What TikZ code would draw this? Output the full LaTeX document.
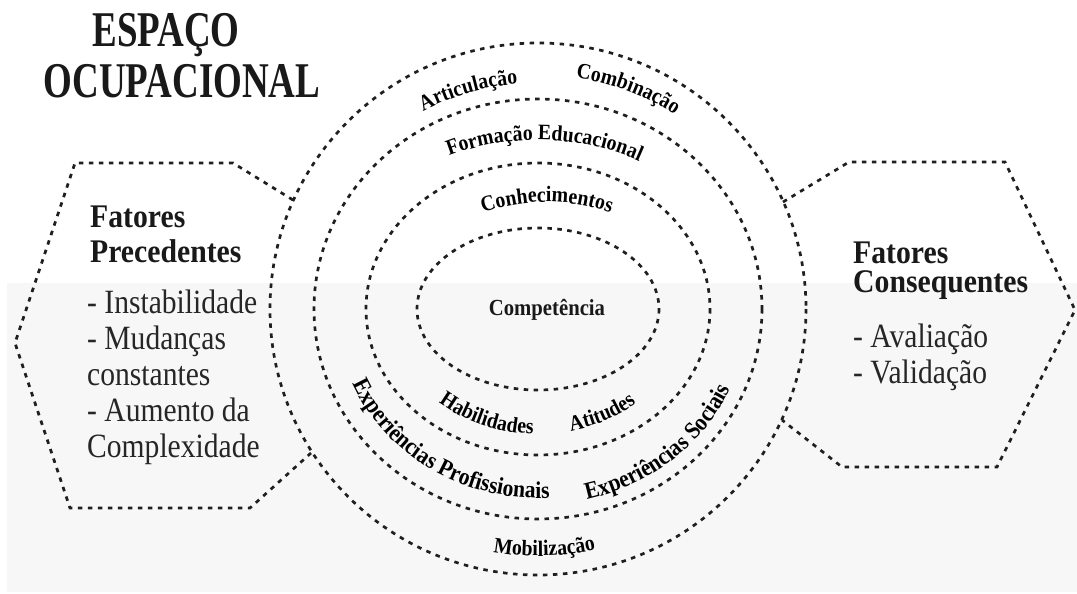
\documentclass[tikz,border=0pt]{standalone}
\usepackage{fontspec}
\setmainfont{Liberation Serif}
\newfontfamily\titlef[FakeStretch=0.74]{Liberation Serif}
\newfontfamily\headf[FakeStretch=0.9]{Liberation Serif}
\newfontfamily\itemf[FakeStretch=0.87]{Liberation Serif}
\newfontfamily\labf[FakeStretch=0.9]{Liberation Serif}
\usetikzlibrary{decorations.text,calc}
\newcommand\lab[1]{\labf\bfseries\fontsize{#1}{#1}\selectfont}
\newcommand\arclab[8][22]{\path[decorate,decoration={text along path,text align=center,text={|\lab{#1}|#8}}] ($(#2,#3)+(#6:#4 and #5)$) arc[start angle=#6,end angle=#7,x radius=#4,y radius=#5];}
\begin{document}
\begin{tikzpicture}[x=1pt,y=-1pt,
  ring/.style={draw=black!88, line width=2.7pt, dash pattern=on 4.5pt off 5.5pt},
  titletext/.style={anchor=base, inner sep=0pt, font=\titlef\bfseries\fontsize{50}{50}\selectfont, text=black!90},
  headtext/.style={anchor=base west, inner sep=0pt, font=\headf\bfseries\fontsize{33}{33}\selectfont, text=black!90},
  itemtext/.style={anchor=base west, inner sep=0pt, font=\itemf\fontsize{34}{34}\selectfont, text=black!85},
  comptext/.style={inner sep=0pt, font=\labf\bfseries\fontsize{23}{23}\selectfont, text=black!90}]
\useasboundingbox (0,0) rectangle (1077,594);
\fill[white] (0,0) rectangle (1077,594);
\fill[black!3] (7,283) rectangle (1077,592);

% title
\node[titletext] (t1) at (166,47) {ESPAÇO};
\node[titletext] (t2) at (182,97) {OCUPACIONAL};

% rings
\coordinate (c) at (538,309);
\draw[ring] (c) ellipse [x radius=268, y radius=266];
\draw[ring] (c) ellipse [x radius=224, y radius=210];
\draw[ring] (c) ellipse [x radius=172, y radius=146];
\draw[ring] (c) ellipse [x radius=121, y radius=81];

% hexagons
\draw[ring] (293,200) -- (233,163) -- (75,163) -- (15,343) -- (70,508) -- (250,508) -- (311,453);
\draw[ring] (783,202) -- (849,162) -- (1005,162) -- (1075,310) -- (997,467) -- (842,467) -- (782,420);

% left block
\node[headtext] (fp1) at (90,227) {Fatores};
\node[headtext] (fp2) at (90,262) {Precedentes};
\node[itemtext] (pi1) at (87,313) {- Instabilidade};
\node[itemtext] (pi2) at (87,349) {- Mudanças};
\node[itemtext] (pi3) at (87,385) {constantes};
\node[itemtext] (pi4) at (87,421) {- Aumento da};
\node[itemtext] (pi5) at (87,457) {Complexidade};

% right block
\node[headtext] (fc1) at (853,263) {Fatores};
\node[headtext] (fc2) at (853,292) {Consequentes};
\node[itemtext] (ci1) at (853,347) {- Avaliação};
\node[itemtext] (ci2) at (853,383) {- Validação};

% centre
\node[comptext] (comp) at (547,310) {Competência};

% arc labels
\arclab{538}{309}{237}{226}{233}{273}{Articulação}
\arclab{538}{309}{245}{234}{271.5}{311.5}{Combinação}
\arclab{538}{309}{209}{169}{232}{312}{Formação Educacional}
\arclab{547}{309}{147}{107}{230}{310}{Conhecimentos}
\arclab{538}{309}{150}{125}{140}{84}{Habilidades}
\arclab{538}{309}{150}{125}{83}{43}{Atitudes}
\arclab[24]{538}{309}{202}{189}{168}{76}{Experiências Profissionais}
\arclab[24]{538}{309}{211}{196}{88}{12}{Experiências Sociais}
\arclab{538}{309}{250}{247}{110}{67}{Mobilização}
\end{tikzpicture}
\end{document}
